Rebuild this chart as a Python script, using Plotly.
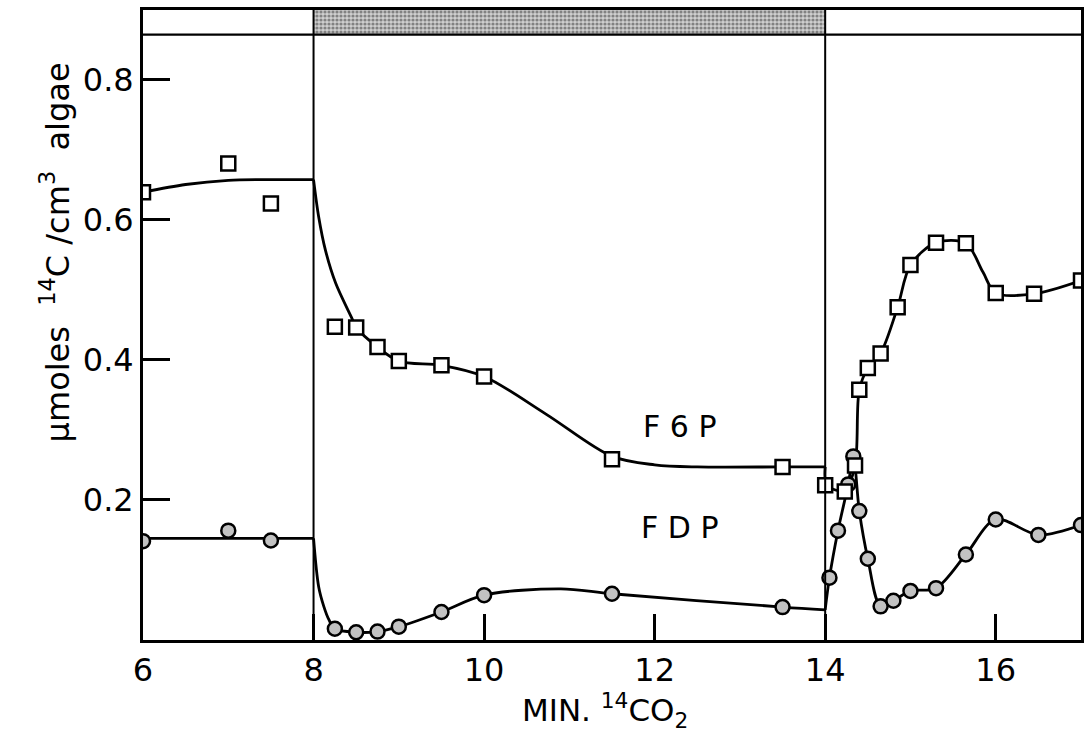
import plotly.graph_objects as go

# Measured F6P (open squares) and FDP (shaded circles), umoles 14C / cm3 algae
f6p_min = [6.0, 7.0, 7.5, 8.25, 8.5, 8.75, 9.0, 9.5, 10.0, 11.5, 13.5, 14.0, 14.23, 14.35,
           14.4, 14.5, 14.65, 14.85, 15.0, 15.3, 15.65, 16.0, 16.45, 17.0]
f6p_val = [0.639, 0.680, 0.623, 0.447, 0.446, 0.418, 0.398, 0.392, 0.376, 0.258, 0.247, 0.221, 0.212, 0.249,
           0.357, 0.388, 0.409, 0.475, 0.535, 0.567, 0.566, 0.495, 0.494, 0.513]

fdp_min = [6.0, 7.0, 7.5, 8.25, 8.5, 8.75, 9.0, 9.5, 10.0, 11.5, 13.5, 14.05, 14.15, 14.27, 14.33,
           14.4, 14.5, 14.65, 14.8, 15.0, 15.3, 15.65, 16.0, 16.5, 17.0]
fdp_val = [0.141, 0.156, 0.142, 0.016, 0.011, 0.012, 0.019, 0.040, 0.064, 0.066, 0.047, 0.089, 0.156, 0.222, 0.262,
           0.184, 0.116, 0.048, 0.056, 0.070, 0.074, 0.122, 0.172, 0.150, 0.164]

# Hand-drawn trend curves, one list per period (light / dark / light)
f6p_curve = [
    ([6.0, 6.5, 7.0, 7.5, 8.0], [0.639, 0.650, 0.656, 0.657, 0.657]),
    ([8.0, 8.06, 8.14, 8.26, 8.45, 8.5, 8.75, 9.0, 9.5, 10.0, 10.73, 11.5, 12.0, 12.5, 13.5, 14.0],
     [0.657, 0.604, 0.556, 0.509, 0.459, 0.446, 0.418, 0.398, 0.392, 0.376, 0.322, 0.262, 0.250, 0.247, 0.247, 0.247]),
    ([14.0, 14.02, 14.23, 14.35, 14.4, 14.5, 14.65, 14.85, 15.0, 15.3, 15.65, 15.85, 16.0, 16.45, 17.0],
     [0.247, 0.221, 0.213, 0.249, 0.357, 0.388, 0.409, 0.475, 0.535, 0.567, 0.566, 0.525, 0.495, 0.494, 0.513]),
]
fdp_curve = [
    ([6.0, 8.0], [0.145, 0.145]),
    ([8.0, 8.06, 8.12, 8.18, 8.25, 8.5, 8.75, 9.0, 9.5, 10.0, 10.9, 11.5, 13.5, 14.0],
     [0.145, 0.076, 0.048, 0.029, 0.016, 0.011, 0.012, 0.019, 0.040, 0.064, 0.073, 0.066, 0.047, 0.043]),
    ([14.0, 14.05, 14.15, 14.27, 14.33, 14.4, 14.5, 14.65, 14.8, 15.0, 15.3, 15.65, 16.0, 16.5, 17.0],
     [0.043, 0.089, 0.156, 0.222, 0.262, 0.184, 0.116, 0.048, 0.056, 0.070, 0.074, 0.122, 0.172, 0.150, 0.164]),
]

# Dark interval (light off) marked by the stippled bar on top
dark_start, dark_end = 8.0, 14.0
x_ticks = [6, 8, 10, 12, 14, 16]
y_ticks = [0.2, 0.4, 0.6, 0.8]

FONT = "DejaVu Sans"
Y_TOP = 0.899
BAND_LOW = 0.864

fig = go.Figure()


def add_curve(segments):
    for xs, ys in segments:
        fig.add_trace(go.Scatter(x=xs, y=ys, mode="lines", line=dict(color="black", width=2.8,
                                 shape="spline", smoothing=0.9), hoverinfo="skip", showlegend=False))


add_curve(f6p_curve)
add_curve(fdp_curve)

# Stippled bar over the dark period
fig.add_trace(go.Scatter(
    x=[dark_start, dark_end, dark_end, dark_start, dark_start],
    y=[BAND_LOW, BAND_LOW, Y_TOP, Y_TOP, BAND_LOW],
    mode="lines", fill="toself", line=dict(color="black", width=0.1),
    fillcolor="#bdbdbd",
    fillpattern=dict(shape=".", size=4, solidity=0.5, fgcolor="#333333", bgcolor="#cfcfcf"),
    hoverinfo="skip", showlegend=False))

fig.add_trace(go.Scatter(x=fdp_min, y=fdp_val, mode="markers", name="FDP",
                         marker=dict(symbol="circle", size=14, color="#c2c2c2",
                                     line=dict(color="black", width=2.5)), showlegend=False))
fig.add_trace(go.Scatter(x=f6p_min, y=f6p_val, mode="markers", name="F6P",
                         marker=dict(symbol="square", size=14, color="white",
                                     line=dict(color="black", width=2.5)), showlegend=False))

shapes = [
    dict(type="line", xref="x", yref="y", x0=x, x1=x, y0=0, y1=Y_TOP,
         line=dict(color="black", width=2))
    for x in (dark_start, dark_end)
]
shapes.append(dict(type="line", xref="paper", yref="y", x0=0, x1=1, y0=BAND_LOW, y1=BAND_LOW,
                   line=dict(color="black", width=2.2)))
fig.update_layout(shapes=shapes)

annotations = [
    dict(x=12.3, y=0.305, xref="x", yref="y", text="F 6 P", showarrow=False,
         font=dict(family=FONT, size=30, color="black")),
    dict(x=12.3, y=0.161, xref="x", yref="y", text="F D P", showarrow=False,
         font=dict(family=FONT, size=30, color="black")),
    dict(x=-0.094, y=0.615, xref="paper", yref="paper", textangle=-90, showarrow=False,
         xanchor="center", yanchor="middle",
         text="µmoles  <sup>14</sup>C /cm<sup>3</sup>  algae",
         font=dict(family=FONT, size=32, color="black")),
    dict(x=0.493, y=-0.112, xref="paper", yref="paper", showarrow=False,
         xanchor="center", yanchor="middle",
         text="MIN. <sup>14</sup>CO<sub>2</sub>",
         font=dict(family=FONT, size=31, color="black")),
]

fig.update_layout(
    annotations=annotations,
    width=1091, height=733,
    margin=dict(l=143, r=7, t=9, b=93),
    paper_bgcolor="white", plot_bgcolor="white",
    font=dict(family=FONT, size=32, color="black"),
    xaxis=dict(range=[6, 17], tickvals=x_ticks, ticktext=[str(v) for v in x_ticks],
               ticks="inside", ticklen=26, tickwidth=2.5, tickcolor="black",
               showgrid=False, zeroline=False, showline=True, linecolor="black",
               linewidth=2.8, mirror=True, tickfont=dict(family=FONT, size=32)),
    yaxis=dict(range=[0, Y_TOP], tickvals=y_ticks, ticktext=[f"{v:.1f}" for v in y_ticks],
               ticks="inside", ticklen=27, tickwidth=2.5, tickcolor="black",
               showgrid=False, zeroline=False, showline=True, linecolor="black",
               linewidth=2.8, mirror=True, tickfont=dict(family=FONT, size=32)),
)

fig.write_html("out.html")
